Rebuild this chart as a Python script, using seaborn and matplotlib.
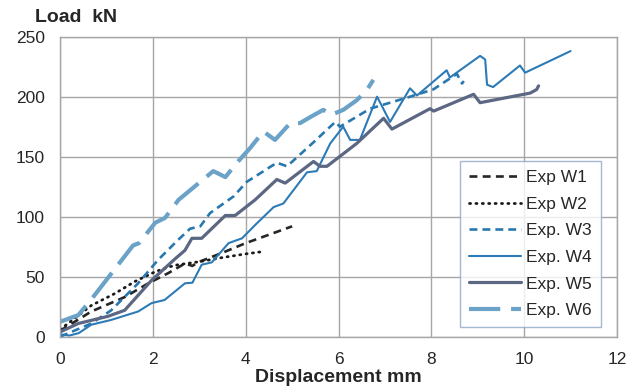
import numpy as np
import pandas as pd
import seaborn as sns
import matplotlib.pyplot as plt

# load-displacement curves
w1_x = [0.0, 0.67, 1.39, 1.9, 2.33, 2.69, 2.85, 2.97, 3.5, 4.0, 4.5, 5.0]
w1_y = [5, 21, 33, 44.5, 53, 61, 59, 62, 70, 78, 85, 92]

w2_x = [0.0, 0.67, 1.18, 1.61, 2.04, 2.33, 2.54, 3.0, 3.5, 4.0, 4.38]
w2_y = [6, 26, 36, 46, 54, 58, 60, 62.5, 66, 69, 71]

w3_x = [0.0, 0.67, 1.1, 1.68, 2.11, 2.54, 2.8, 3.02, 3.23, 3.74, 4.02, 4.67, 4.89,
        5.46, 5.93, 6.03, 6.68, 7.54, 8.04, 8.55, 8.66, 8.7]
w3_y = [0, 11, 22, 44.5, 64, 80.6, 90, 92, 103, 117, 129, 145, 142,
        162, 179, 175, 190, 200, 206, 219, 211, 213]

w4_x = [0.0, 0.2, 0.4, 0.67, 1.1, 1.68, 1.97, 2.25, 2.69, 2.85, 3.05, 3.27, 3.63,
        3.92, 4.2, 4.6, 4.81, 5.32, 5.53, 5.82, 6.1, 6.25, 6.46, 6.83, 7.11,
        7.54, 7.69, 8.33, 8.4, 9.05, 9.16, 9.2, 9.33, 9.91, 10.02, 11.0]
w4_y = [2, 1, 3, 10, 14, 21, 28, 30.6, 44.5, 45, 60, 62, 78,
        82, 93, 108, 111, 137, 138, 161, 175, 164, 164, 200, 179,
        207, 201, 222, 216, 234, 231, 210, 208, 226, 220, 238]

w5_x = [0.0, 0.39, 1.03, 1.39, 1.97, 2.48, 2.69, 2.84, 3.05, 3.56, 3.77, 4.2,
        4.67, 4.85, 5.46, 5.6, 5.75, 6.39, 6.97, 7.15, 7.97, 8.05, 8.91, 9.05,
        10.13, 10.27, 10.31]
w5_y = [4, 11, 17, 22, 47, 65, 72, 82, 82, 101, 101, 114,
        131, 128, 146, 142, 142, 161, 182, 173, 190, 188, 202, 195,
        203, 206, 209]

w6_x = [0.0, 0.39, 0.67, 1.03, 1.57, 1.7, 2.05, 2.26, 2.55, 2.8, 3.3, 3.56, 3.81,
        4.09, 4.38, 4.63, 4.96, 5.17, 5.39, 5.67, 5.85, 6.1, 6.39, 6.6, 6.75]
w6_y = [12.5, 18, 31, 49, 76, 78, 95, 99, 114, 122, 138, 133, 145,
        157, 171, 164, 178, 178, 183, 189, 185, 189, 197, 205, 214]

labels = ["Exp W1", "Exp W2", "Exp. W3", "Exp. W4", "Exp. W5", "Exp. W6"]
xs = [w1_x, w2_x, w3_x, w4_x, w5_x, w6_x]
ys = [w1_y, w2_y, w3_y, w4_y, w5_y, w6_y]

colors = ["#262626", "#1A1A1A", "#2878B0", "#2C7BB6", "#5B6783", "#6AA2C8"]
widths = [1.9, 2.0, 1.9, 1.5, 2.3, 3.0]
dashes = [(3, 2), (0.4, 1.9), (3, 1.9), None, None, (7.5, 2.6)]

sns.set_theme(style="white")
plt.rcParams["font.family"] = ["Liberation Sans", "DejaVu Sans"]

fig = plt.figure(figsize=(6.4, 3.89), dpi=100)
ax = fig.add_axes([0.094, 0.1344, 0.870, 0.7713])

for x, y, lab, c, w, d in zip(xs, ys, labels, colors, widths, dashes):
    df = pd.DataFrame({"x": x, "y": y})
    line = sns.lineplot(data=df, x="x", y="y", ax=ax, color=c, linewidth=w,
                        sort=False, estimator=None, label=lab).lines[-1]
    if d is not None:
        line.set_dashes(d)
    if lab == "Exp W2":
        line.set_dash_capstyle("round")

ax.set_xlim(0, 12)
ax.set_ylim(0, 250)
ax.set_xticks(np.arange(0, 13, 2))
ax.set_yticks(np.arange(0, 251, 50))
ax.grid(True, color="#A6A6A6", linewidth=1.0)
ax.set_axisbelow(True)
for s in ax.spines.values():
    s.set_color("#A6A6A6")
    s.set_linewidth(1.0)
ax.tick_params(axis="both", length=0, labelsize=12.5, colors="#262626", pad=11)
ax.set_xlabel("")
ax.set_ylabel("")

fig.text(35 / 640, 1 - 17 / 389, "Load  kN", fontsize=14, fontweight="bold",
         color="#262626", ha="left", va="center")
fig.text(338 / 640, 1 - 378 / 389, "Displacement mm", fontsize=14,
         fontweight="bold", color="#262626", ha="center", va="center")

leg = ax.legend(loc="lower right", bbox_to_anchor=(0.971, 0.033), fontsize=12.5,
                handlelength=3.0, labelspacing=0.66, handletextpad=0.3,
                borderpad=0.5, borderaxespad=0, frameon=True, fancybox=False)
leg.get_frame().set_edgecolor("#8EA6C8")
leg.get_frame().set_linewidth(1.0)
for t in leg.get_texts():
    t.set_color("#262626")

fig.savefig("out.png", dpi=100)
